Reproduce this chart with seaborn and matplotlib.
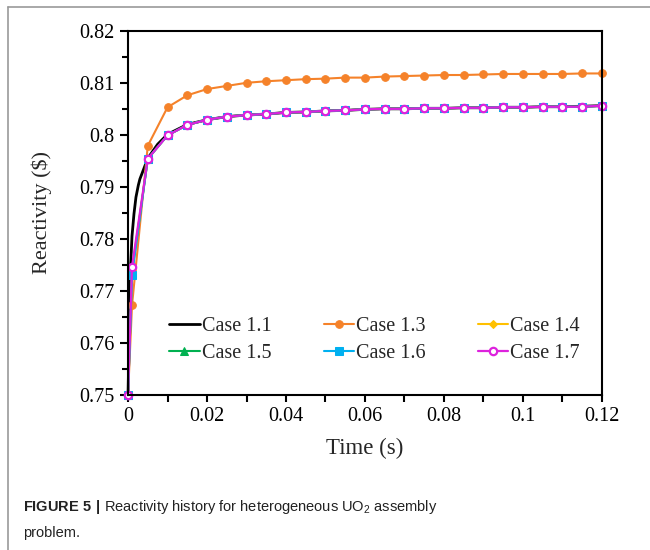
import matplotlib
matplotlib.use("Agg")
import matplotlib.pyplot as plt
from matplotlib.lines import Line2D
from matplotlib.ticker import MultipleLocator, FuncFormatter
import seaborn as sns

# marker times (s)
time_marks = [0, 0.001, 0.005, 0.01, 0.015, 0.02, 0.025, 0.03, 0.035, 0.04,
              0.045, 0.05, 0.055, 0.06, 0.065, 0.07, 0.075, 0.08, 0.085,
              0.09, 0.095, 0.1, 0.105, 0.11, 0.115, 0.12]

# reference solution (dense, no markers)
time_ref = [0, 0.0005, 0.0006, 0.001, 0.0015, 0.002, 0.0026, 0.003, 0.004,
            0.005, 0.0075, 0.01, 0.015, 0.02, 0.025, 0.03, 0.035, 0.04,
            0.045, 0.05, 0.055, 0.06, 0.065, 0.07, 0.075, 0.08, 0.085,
            0.09, 0.095, 0.1, 0.105, 0.11, 0.115, 0.12]
case_11 = [0.75, 0.770, 0.774, 0.7805, 0.7848, 0.7880, 0.7903, 0.7915,
           0.7935, 0.7955, 0.7982, 0.8001, 0.8020, 0.8029, 0.8035, 0.8038,
           0.8040, 0.8043, 0.8044, 0.8046, 0.8047, 0.8049, 0.8050, 0.8050,
           0.8051, 0.8051, 0.8052, 0.8052, 0.8053, 0.8053, 0.8054, 0.8054,
           0.8055, 0.8056]

case_13 = [0.75, 0.7672, 0.7979, 0.8053, 0.8076, 0.8088, 0.8094, 0.8100,
           0.8103, 0.8105, 0.8107, 0.8108, 0.8110, 0.8110, 0.8112, 0.8113,
           0.8114, 0.8115, 0.8115, 0.8116, 0.8117, 0.8117, 0.8117, 0.8117,
           0.8118, 0.8118]
case_14 = [0.75, 0.7740, 0.7954, 0.7999, 0.8019, 0.8029, 0.8035, 0.8038,
           0.8040, 0.8043, 0.8044, 0.8046, 0.8047, 0.8049, 0.8050, 0.8050,
           0.8051, 0.8051, 0.8052, 0.8052, 0.8053, 0.8053, 0.8054, 0.8054,
           0.8054, 0.8056]
case_15 = [0.75, 0.7735, 0.7954, 0.7999, 0.8019, 0.8029, 0.8035, 0.8038,
           0.8040, 0.8043, 0.8044, 0.8046, 0.8047, 0.8049, 0.8050, 0.8050,
           0.8051, 0.8051, 0.8052, 0.8052, 0.8053, 0.8053, 0.8054, 0.8054,
           0.8054, 0.8056]
case_16 = [0.75, 0.7731, 0.7954, 0.7999, 0.8019, 0.8029, 0.8035, 0.8038,
           0.8040, 0.8043, 0.8044, 0.8046, 0.8047, 0.8049, 0.8050, 0.8050,
           0.8051, 0.8051, 0.8052, 0.8052, 0.8053, 0.8053, 0.8054, 0.8054,
           0.8054, 0.8056]
case_17 = [0.75, 0.7746, 0.7954, 0.7999, 0.8019, 0.8029, 0.8035, 0.8038,
           0.8040, 0.8043, 0.8044, 0.8046, 0.8047, 0.8049, 0.8050, 0.8050,
           0.8051, 0.8051, 0.8052, 0.8052, 0.8053, 0.8053, 0.8054, 0.8054,
           0.8054, 0.8056]

sns.set_style("ticks")
plt.rcParams["font.family"] = ["Liberation Serif", "DejaVu Serif"]
plt.rcParams["mathtext.fontset"] = "custom"
plt.rcParams["mathtext.rm"] = "Liberation Sans"
plt.rcParams["mathtext.bf"] = "Liberation Sans:bold"

fig = plt.figure(figsize=(6.5, 5.5), dpi=100)
ax = fig.add_axes([0.197, 0.282, 0.729, 0.662])

common = dict(ax=ax, estimator=None, sort=False, clip_on=False)
sns.lineplot(x=time_ref, y=case_11, color="black", lw=2.0,
             label="Case 1.1", **common)
sns.lineplot(x=time_marks, y=case_13, color="#F5822A", lw=1.5, marker="o",
             markersize=5.5, markeredgecolor="#F5822A", label="Case 1.3", **common)
sns.lineplot(x=time_marks, y=case_14, color="#FFC000", lw=1.5, marker="D",
             markersize=4.5, markeredgecolor="#FFC000", label="Case 1.4", **common)
sns.lineplot(x=time_marks, y=case_15, color="#00B050", lw=1.5, marker="^",
             markersize=5.5, markeredgecolor="#00B050", label="Case 1.5", **common)
sns.lineplot(x=time_marks, y=case_16, color="#00B0F0", lw=1.5, marker="s",
             markersize=5.5, markeredgecolor="#00B0F0", label="Case 1.6", **common)
sns.lineplot(x=time_marks, y=case_17, color="#DD22DD", lw=1.6, marker="o",
             markersize=5.3, markerfacecolor="white", markeredgecolor="#DD22DD",
             markeredgewidth=1.6, label="Case 1.7", **common)

ax.set_xlim(0, 0.12)
ax.set_ylim(0.75, 0.82)
ax.xaxis.set_major_locator(MultipleLocator(0.02))
ax.xaxis.set_minor_locator(MultipleLocator(0.01))
ax.yaxis.set_major_locator(MultipleLocator(0.01))
ax.yaxis.set_minor_locator(MultipleLocator(0.005))
fmt = FuncFormatter(lambda v, p: "%g" % round(v, 4))
ax.xaxis.set_major_formatter(fmt)
ax.yaxis.set_major_formatter(fmt)
ax.tick_params(which="both", direction="out", width=1.5, colors="black",
               labelsize=14.5)
ax.tick_params(axis="y", which="major", length=6)
ax.tick_params(axis="y", which="minor", length=4)
ax.tick_params(axis="x", which="both", length=5)
for s in ax.spines.values():
    s.set_linewidth(1.5)
    s.set_color("black")

ax.set_xlabel("Time (s)", fontsize=16.5, labelpad=9)
ax.set_ylabel(r"Reactivity (\$)", fontsize=16, labelpad=20)

h, l = ax.get_legend_handles_labels()
order = [0, 3, 1, 4, 2, 5]
ax.legend([h[i] for i in order], [l[i] for i in order], ncol=3,
          loc="center", bbox_to_anchor=(0.52, 0.15), frameon=False,
          fontsize=14.5, handlelength=1.5, handletextpad=0.1,
          columnspacing=2.6, labelspacing=0.4, borderpad=0)

# outer frame of the figure panel
fig.add_artist(Line2D([8 / 650, 8 / 650], [0, 1 - 7 / 550],
                      color="#999999", lw=1.2, transform=fig.transFigure))
fig.add_artist(Line2D([8 / 650, 1], [1 - 7 / 550, 1 - 7 / 550],
                      color="#999999", lw=1.2, transform=fig.transFigure))

cap = dict(fontsize=10.5, family=["Liberation Sans", "DejaVu Sans"],
           color="#222222", va="center", ha="left")
fig.text(23 / 650, 1 - 507 / 550,
         r"$\bf{FIGURE\ 5\ |}$ Reactivity history for heterogeneous UO$_2$ assembly",
         **cap)
fig.text(23 / 650, 1 - 533 / 550, "problem.", **cap)

fig.savefig("out.png", dpi=100)
